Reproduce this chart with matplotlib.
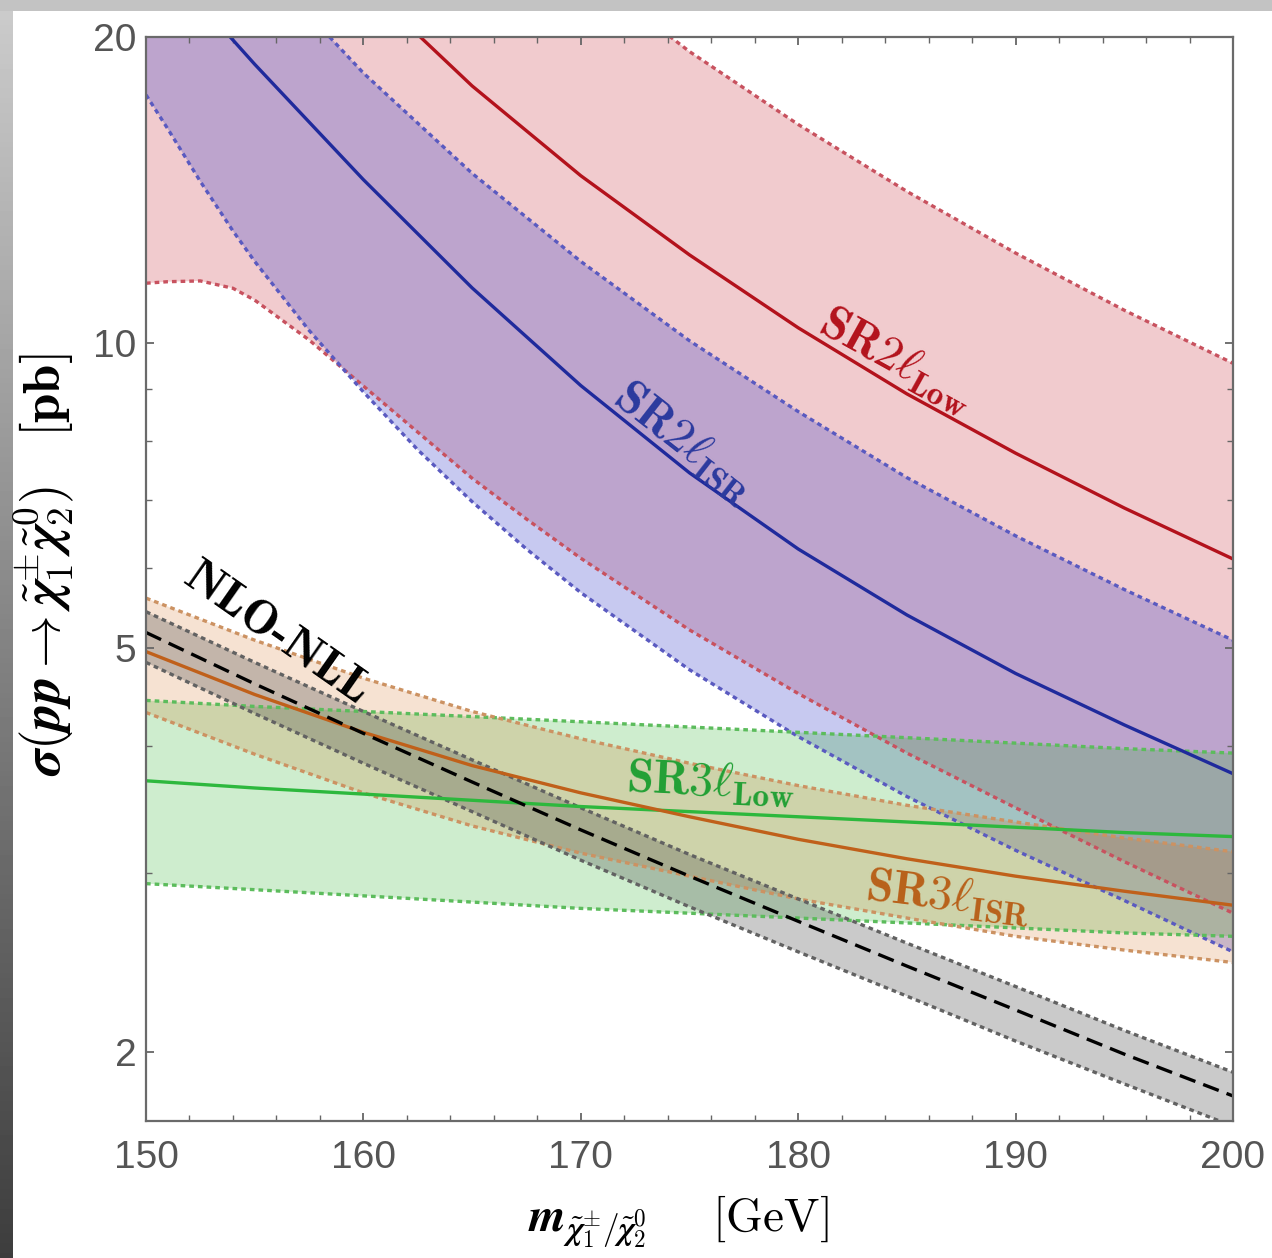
import numpy as np
import matplotlib.pyplot as plt
from matplotlib.patches import Rectangle
from matplotlib.mathtext import MathTextParser

plt.rcParams['mathtext.fontset'] = 'cm'

# chargino/neutralino mass grid [GeV]
mass = [150, 155, 160, 165, 170, 175, 180, 185, 190, 195, 200]
mass_fine = [150, 151, 152.5, 154, 155, 157.5, 160, 162.5, 165, 167.5, 170,
             175, 180, 185, 190, 195, 200]

# SR2l Low (red)
sr2low_c = [37.5, 29.0, 22.6, 17.9, 14.6, 12.2, 10.34, 8.90, 7.78, 6.87, 6.12]
sr2low_up = [61.0, 47.0, 36.6, 28.9, 23.4, 19.35, 16.4, 14.09, 12.25, 10.76, 9.54]
sr2low_lo = [11.44, 11.48, 11.50, 11.31, 11.01, 10.06, 9.06, 8.16, 7.35, 6.70, 6.13,
             5.21, 4.51, 3.94, 3.48, 3.08, 2.74]

# SR2l ISR (blue)
sr2isr_c = [24.75, 18.8, 14.47, 11.32, 9.07, 7.44, 6.26, 5.39, 4.72, 4.20, 3.76]
sr2isr_up = [32.05, 23.98, 18.43, 14.68, 12.02, 10.04, 8.55, 7.36, 6.45, 5.71, 5.09]
sr2isr_lo = [17.54, 16.24, 14.41, 12.88, 12.02, 10.28, 8.94, 7.84, 6.97, 6.26, 5.67,
             4.76, 4.09, 3.57, 3.16, 2.82, 2.51]

# SR3l Low (green)
sr3low_c = [3.70, 3.64, 3.59, 3.54, 3.49, 3.45, 3.41, 3.37, 3.33, 3.29, 3.26]
sr3low_up = [4.44, 4.38, 4.33, 4.28, 4.23, 4.18, 4.13, 4.08, 4.03, 3.98, 3.94]
sr3low_lo = [2.93, 2.89, 2.85, 2.81, 2.77, 2.74, 2.71, 2.68, 2.65, 2.62, 2.60]

# SR3l ISR (orange)
sr3isr_c = [4.96, 4.50, 4.13, 3.83, 3.60, 3.41, 3.24, 3.10, 2.98, 2.88, 2.79]
sr3isr_up = [5.60, 5.09, 4.67, 4.33, 4.07, 3.85, 3.66, 3.50, 3.37, 3.25, 3.15]
sr3isr_lo = [4.32, 3.93, 3.60, 3.34, 3.14, 2.98, 2.83, 2.71, 2.60, 2.52, 2.45]

# NLO-NLL cross section
nlo_c = [5.18, 4.61, 4.12, 3.69, 3.31, 2.98, 2.69, 2.43, 2.20, 1.99, 1.81]
nlo_up = [5.43, 4.84, 4.33, 3.88, 3.48, 3.13, 2.83, 2.56, 2.32, 2.10, 1.91]
nlo_lo = [4.84, 4.31, 3.85, 3.45, 3.09, 2.78, 2.51, 2.27, 2.05, 1.86, 1.69]

_parser = MathTextParser('path')


def pick(bold, plain):
    # vet mathtext als het lukt, anders gewone versie
    try:
        _parser.parse(bold, dpi=100)
        return bold
    except Exception:
        return plain


W, H = 1272, 1258
fig = plt.figure(figsize=(W / 100, H / 100), dpi=100)

# grijze dia-achtergrond links en boven
bg = fig.add_axes([0, 0, 1, 1], zorder=-10)
bg.set_xlim(0, W)
bg.set_ylim(H, 0)
bg.axis('off')
bg.imshow(np.linspace(0.80, 0.24, 256)[:, None], cmap='gray', vmin=0, vmax=1,
          extent=[0, 13, H, 0], aspect='auto')
bg.add_patch(Rectangle((0, 0), W, 11, color='#c3c3c3', lw=0))

ax = fig.add_axes([146 / W, 1 - 1121 / H, (1233 - 146) / W, (1121 - 37) / H])
ax.set_yscale('log')
ax.set_xlim(150, 200)
ax.set_ylim(1.71, 20)


def band(x_up, up, x_lo, lo, fc, alpha):
    xs = list(x_up) + list(x_lo)[::-1]
    ys = list(up) + list(lo)[::-1]
    ax.fill(xs, ys, color=fc, alpha=alpha, lw=0)


dot = (0, (1.4, 1.2))
dlw = 2.4

band(mass, sr2low_up, mass_fine, sr2low_lo, '#c82832', 0.24)
band(mass, sr2isr_up, mass_fine, sr2isr_lo, '#4046cc', 0.29)
band(mass, sr3low_up, mass, sr3low_lo, '#32b432', 0.24)
band(mass, sr3isr_up, mass, sr3isr_lo, '#d26e1e', 0.20)
band(mass, nlo_up, mass, nlo_lo, '#505050', 0.30)

# gestippelde randen
ax.plot(mass, sr2low_up, color='#c8525f', lw=dlw, ls=dot)
ax.plot(mass_fine, sr2low_lo, color='#c8525f', lw=dlw, ls=dot)
ax.plot(mass, sr2isr_up, color='#5a5ac0', lw=dlw, ls=dot)
ax.plot(mass_fine, sr2isr_lo, color='#5a5ac0', lw=dlw, ls=dot)
ax.plot(mass, sr3low_up, color='#5cbc5c', lw=dlw, ls=dot)
ax.plot(mass, sr3low_lo, color='#5cbc5c', lw=dlw, ls=dot)
ax.plot(mass, sr3isr_up, color='#cc9262', lw=dlw, ls=dot)
ax.plot(mass, sr3isr_lo, color='#cc9262', lw=dlw, ls=dot)
ax.plot(mass, nlo_up, color='#626262', lw=dlw, ls=dot)
ax.plot(mass, nlo_lo, color='#626262', lw=dlw, ls=dot)

# centrale lijnen
ax.plot(mass, sr2low_c, color='#b3121c', lw=2.4)
ax.plot(mass, sr2isr_c, color='#1f2a9c', lw=2.4)
ax.plot(mass, sr3low_c, color='#2db83d', lw=2.4)
ax.plot(mass, sr3isr_c, color='#c0601a', lw=2.4)
ax.plot(mass, nlo_c, color='black', lw=2.4, ls=(0, (5, 2.5)))

# labels op de curves
fs = 34.5


def sr_label(num, sub):
    return pick(r'$\mathbf{SR%s}\boldsymbol{\ell}_{\mathbf{%s}}$' % (num, sub),
                r'$\mathbf{SR%s}\ell_{\mathbf{%s}}$' % (num, sub))


ax.text(184.5, 9.6, sr_label('2', 'Low'), color='#b3121c',
        fontsize=fs, rotation=-29, ha='center', va='center')
ax.text(174.8, 7.98, sr_label('2', 'ISR'), color='#2b3a9e',
        fontsize=fs, rotation=-38, ha='center', va='center')
ax.text(156.0, 5.15, 'NLO-NLL', color='black', family='cmb10',
        fontsize=35, rotation=-35, ha='center', va='center')
ax.text(176.0, 3.68, sr_label('3', 'Low'), color='#22a035',
        fontsize=fs, rotation=-3, ha='center', va='center')
ax.text(186.9, 2.85, sr_label('3', 'ISR'), color='#b8611a',
        fontsize=fs, rotation=-7, ha='center', va='center')

# assen
ax.set_xticks([150, 160, 170, 180, 190, 200])
ax.set_xticks(np.arange(150, 201, 2), minor=True)
ax.set_yticks([2, 5, 10, 20])
ax.set_yticklabels(['2', '5', '10', '20'])
ax.set_yticks([3, 4, 6, 7, 8, 9], minor=True)
ax.yaxis.set_minor_formatter(plt.NullFormatter())
ax.tick_params(which='both', direction='in', top=True, right=True, color='#666666')
ax.tick_params(which='major', length=6, width=1.3)
ax.tick_params(which='minor', length=4, width=1.0)
ax.tick_params(axis='x', pad=14, labelsize=28, labelcolor='#555555')
ax.tick_params(axis='y', pad=7, labelsize=28, labelcolor='#555555')
for lab in ax.get_xticklabels() + ax.get_yticklabels():
    lab.set_fontfamily('Liberation Sans')
for s in ax.spines.values():
    s.set_color('#6a6a6a')
    s.set_linewidth(1.6)

ylab = pick(r'$\boldsymbol{\sigma}(\boldsymbol{pp}\rightarrow\tilde{\boldsymbol{\chi}}^{\pm}_{\mathbf{1}}'
            r'\tilde{\boldsymbol{\chi}}^{\mathbf{0}}_{\mathbf{2}})\quad\mathbf{[pb]}$',
            r'$\sigma(pp\rightarrow\tilde{\chi}^{\pm}_{1}\tilde{\chi}^{0}_{2})\quad\mathbf{[pb]}$')
xlab = pick(r'$\boldsymbol{m}_{\tilde{\boldsymbol{\chi}}^{\pm}_{\mathbf{1}}/\tilde{\boldsymbol{\chi}}^{\mathbf{0}}_{\mathbf{2}}}'
            r'\quad\enspace\mathrm{[GeV]}$',
            r'$m_{\tilde{\chi}^{\pm}_{1}/\tilde{\chi}^{0}_{2}}\quad\enspace\mathrm{[GeV]}$')

fig.text(44 / W, 1 - 565 / H, ylab, rotation=90, fontsize=38, ha='center', va='center')
fig.text(678 / W, 1 - 1222 / H, xlab, fontsize=34, ha='center', va='center')

fig.savefig('out.png', dpi=100)
